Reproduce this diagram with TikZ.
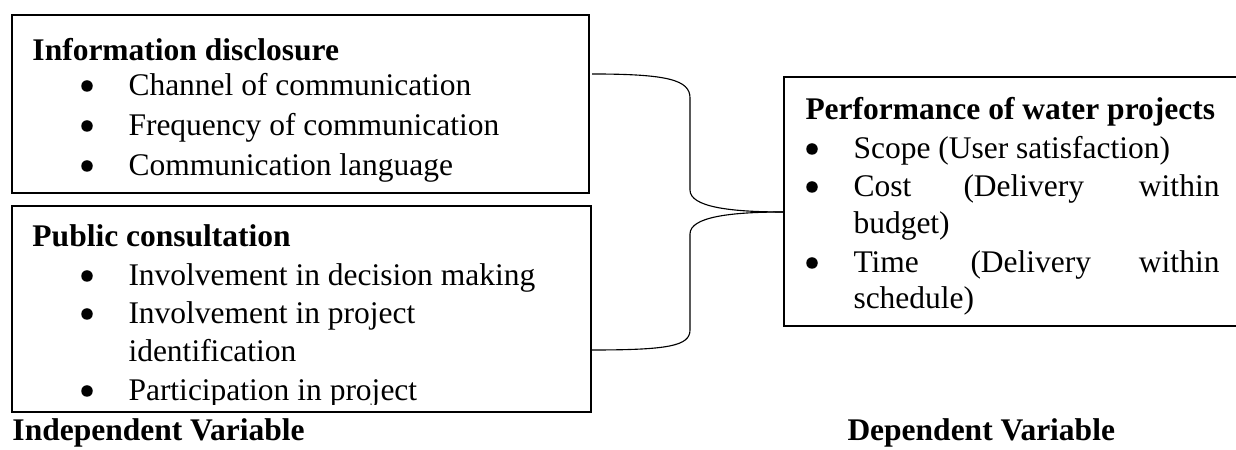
\documentclass[tikz,border=0pt]{standalone}
\usepackage{fontspec}
\setmainfont{Liberation Serif}
\usetikzlibrary{fit}
\begin{document}
\begin{tikzpicture}[x=0.4pt,y=-0.4pt,
  font=\fontsize{12.6}{15.6}\selectfont,
  box/.style={draw, line width=1.05pt, inner sep=0pt, outer sep=0pt},
  hd/.style={anchor=base west, inner sep=0pt, font=\fontsize{12.6}{15.6}\selectfont\bfseries},
  tx/.style={anchor=base west, inner sep=0pt},
  txr/.style={anchor=base east, inner sep=0pt},
  dot/.style={circle, fill, inner sep=0pt, minimum size=4.6pt},
  brace/.style={line width=0.45pt}]
\useasboundingbox (0,0) rectangle (1236,450);
\clip (0,0) rectangle (1236,450);

% ---- box 1: Information disclosure
\coordinate (i1) at (12,15);
\coordinate (i2) at (589,193);
\node[box, fit=(i1)(i2)] (info) {};
\node[hd] (t1) at (32,61) {Information disclosure};
\node[dot] (d11) at (87,86) {};
\node[tx] (a11) at (128,96) {Channel of communication};
\node[dot] (d12) at (87,126) {};
\node[tx] (a12) at (128,136) {Frequency of communication};
\node[dot] (d13) at (87,166) {};
\node[tx] (a13) at (128,176) {Communication language};

% ---- box 2: Public consultation
\begin{scope}
\clip (12,206) rectangle (591,405);
\node[hd] (t2) at (32,247) {Public consultation};
\node[dot] (d21) at (87,276) {};
\node[tx] (a21) at (128,286) {Involvement in decision making};
\node[dot] (d22) at (87,314) {};
\node[tx] (a22) at (128,324) {Involvement in project};
\node[tx] (a22b) at (128,362) {identification};
\node[dot] (d23) at (87,391) {};
\node[tx] (a23) at (128,401) {Participation in project};
\end{scope}
\coordinate (c1) at (12,206);
\coordinate (c2) at (591,412);
\node[box, fit=(c1)(c2)] (cons) {};

% ---- right box: Performance
\coordinate (p1) at (784,77);
\coordinate (p2) at (1260,326);
\node[box, fit=(p1)(p2)] (perf) {};
\node[hd] (t3) at (805,120) {Performance of water projects};
\node[dot] (d31) at (812,149) {};
\node[tx] (a31) at (853,159) {Scope (User satisfaction)};
\node[dot] (d32) at (812,187) {};
\node[tx] (a32) at (853,197) {Cost};
\node[tx] (a32b) at (963,197) {(Delivery};
\node[txr] (a32c) at (1220,197) {within};
\node[tx] (a32d) at (853,234) {budget)};
\node[dot] (d33) at (812,263) {};
\node[tx] (a33) at (853,273) {Time};
\node[tx] (a33b) at (970,273) {(Delivery};
\node[txr] (a33c) at (1220,273) {within};
\node[tx] (a33d) at (853,309) {schedule)};

% ---- captions
\node[hd] (iv) at (12,441) {Independent Variable};
\node[hd] (dv) at (847,441) {Dependent Variable};

% ---- brace
\coordinate (bt) at (592,74);
\coordinate (bb) at (592,350);
\coordinate (tip) at (784,212);
\draw[brace] (bt) .. controls (668,74) and (690,80) .. (690,98)
  -- (690,190) .. controls (690,207) and (730,212) .. (tip);
\draw[brace] (tip) .. controls (730,212) and (690,217) .. (690,234)
  -- (690,330) .. controls (690,346) and (668,350) .. (bb);
\end{tikzpicture}
\end{document}
